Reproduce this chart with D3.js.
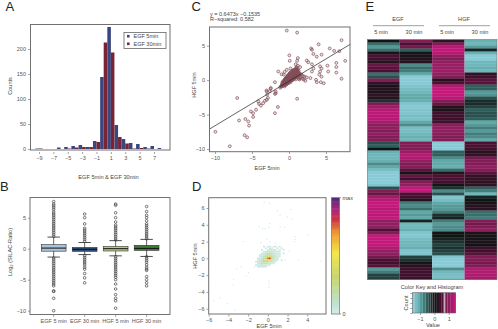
<!DOCTYPE html>
<html>
<head>
<meta charset="utf-8">
<script src="https://cdn.jsdelivr.net/npm/d3@7"></script>
<style>
  body { margin: 0; background: #fff; }
  text { font-family: "Liberation Sans", Arial, sans-serif; fill: #444; }
  .letter { font-size: 13px; fill: #222; }
  .ax text { font-size: 5.5px; fill: #555; }
  .ax line { stroke: #666; stroke-width: 0.6; }
  .ax path { display: none; }
  .lab { font-size: 5.6px; text-anchor: middle; dominant-baseline: central; }
</style>
</head>
<body>
<svg id="fig" width="498" height="329"></svg>
<script>
// A - histogram
const histBins = [-9,-8,-7,-6,-5,-4,-3,-2,-1,0,1,2,3,4,5,6,7,8];
const histEgf5 = [1,0,0,3,4,6,8,4,16,144,244,48,20,12,10,4,6,2];
const histEgf30 = [1,0,0,0,1,3,4,4,14,213,193,24,11,1,2,1,0,0];
const histTicks = [-9,-7,-5,-3,-1,1,3,5,7];

// B - boxplots
const boxNames = ["EGF 5 min","EGF 30 min","HGF 5 min","HGF 30 min"];
const boxQ1 = [-0.4,-0.43,-0.37,-0.27];
const boxMed = [0.1,-0.1,0,0.05];
const boxQ3 = [0.65,0.2,0.37,0.55];
const boxLow = [-1.35,-0.95,-1.15,-1.25];
const boxHigh = [1.87,1,1.3,1.5];
const boxColors = ["#a9c4d9","#2f4b78","#b5c98a","#3f7d36"];
const boxOut = [
  [2,2.3,2.6,2.9,3.2,3.5,3.8,4.1,4.4,4.7,5,5.3,5.6,5.9,6.3,6.6,6.9,7.2,7.6,-1.5,-1.8,-2.1,-2.4,-2.7,-3,-3.3,-3.6,-3.9,-4.2,-4.5,-4.8,-5.1,-5.4,-5.7,-6,-6.8,-6.9,-8,-10],
  [1.2,1.5,1.8,2.1,2.4,2.7,3,3.3,4,5,5.6,-1.1,-1.4,-1.7,-2,-2.3,-2.6,-3,-3.3,-4,-4.7,-5.5],
  [1.4,1.7,2,2.3,2.6,2.9,3.2,3.5,3.8,4.3,5,5.8,7,7.2,-1.3,-1.6,-1.9,-2.2,-2.5,-2.8,-3.1,-3.4,-3.7,-4,-4.3,-4.6,-5,-5.7,-6.5,-7.4,-8,-8.4,-9.6],
  [1.6,1.9,2.2,2.5,2.8,3.1,3.4,3.7,4,4.5,5,5.4,6,6.8,-1.3,-1.6,-1.9,-2.2,-2.6,-3,-3.3,-3.5,-4.5,-5,-5.5,-6]
];

// C - scatter, x and y
const scatterX = [-0.3,1.1,7.1,3,3.1,4,5.5,6.1,6.8,3.3,3.75,4.4,7.6,6.4,6.4,5.2,5.3,6.4,7.1,0.05,0.1,1.2,1.1,2.4,2.6,3.1,3.3,4.2,4.4,4.2,4.1,4.4,4.7,4.3,3.75,3.65,2.9,3.1,-1.45,-1.9,-1,-0.7,1.1,-1.5,-1.9,-2.45,-1.8,-1.9,-3,-2.6,-2.95,-3.25,-3.5,-3.8,-3,-7,-9.95,-8,-6.75,-5.9,-5.5,-5.4,-6,-5.65,-5.15,-4.85,-4.85,-4.45,-4.05,-4.15,-2.85,-3.04,-2.5,-1.8,
  -1.2,-1.1,-1,-0.95,-0.9,-0.85,-0.8,-0.7,-0.7,-0.6,-0.6,-0.5,-0.5,-0.45,-0.4,-0.4,-0.3,-0.3,-0.25,-0.2,-0.2,-0.15,-0.1,-0.1,-0.05,0,0,0.05,0.1,0.1,0.15,0.2,0.2,0.25,0.3,0.3,0.35,0.4,0.4,0.45,0.5,0.5,0.55,0.6,0.6,0.7,0.7,0.75,0.8,0.8,0.85,0.9,0.9,1,1,1,1.1,1.1,1.2,1.2,1.3,1.3,1.4,1.4,1.5,1.5,1.6,1.7,1.8,1.9,2,2.1,2.2,2.4,0.9,1.2,1.5,1,-0.6,-0.3,0.2,0.5];
const scatterY = [7.2,6.9,5.8,4.6,4.4,5.2,4.6,4.25,4.2,3.8,3.4,3.7,2.8,2.5,1.9,2.1,1.25,1.1,0.2,3.6,2.8,3.2,2.8,2.85,2.6,2.3,1.7,2,1.7,1.25,0.8,0.5,-0.45,-0.3,-0.3,0.05,0.3,1.25,1.25,-0.3,0.85,0.8,-2.7,-3.9,-4.8,-1.15,-1.65,-2,-1.65,-1.6,-2.1,-3,-3.35,-3.7,-2.85,-2.6,-7.5,-9.6,-5.85,-5.65,-6,-6.6,-8,-8.3,-4.55,-4.8,-5.35,-4.3,-3.45,-3.1,-2.6,-1.5,-1.25,-1.9,
  -1.1,-0.9,-0.95,-0.6,-0.8,-0.5,-0.7,-0.35,-0.75,-0.2,-0.55,-0.4,0.1,-0.6,-0.15,-0.4,0.2,-0.3,-0.5,0.4,-0.1,-0.35,0.6,0,-0.25,0.8,0.2,-0.1,0.4,1,0.1,-0.1,0.6,0.2,1.2,0.3,0.7,0,0.5,0.9,0.2,0.6,1,0.1,1.4,0.4,0.7,0.9,1.1,0.3,1.3,0.6,0.1,1.6,0.5,1.9,0.8,1.1,0.4,1.5,0.2,1,0.7,0.1,0.9,0.3,0.5,0.8,0.2,0.6,0.1,0.5,-0.1,0.4,2.3,2.1,1.9,1.8,1.2,1.5,1.7,1.4];
// the solid core of the cloud
const coreX = [-1,-0.9,-0.8,-0.8,-0.7,-0.6,-0.6,-0.5,-0.5,-0.4,-0.4,-0.3,-0.3,-0.3,-0.2,-0.2,-0.2,-0.1,-0.1,-0.1,0,0,0,0,0.1,0.1,0.1,0.1,0.2,0.2,0.2,0.2,0.3,0.3,0.3,0.3,0.4,0.4,0.4,0.5,0.5,0.5,0.6,0.6,0.6,0.7,0.7,0.7,0.8,0.8,0.9,0.9,1,1,1.1,1.1,1.2,1.3,-0.5,-0.2,0.1,0.4,0.7,1,
  -0.9,-0.7,-0.5,-0.3,-0.1,0.1,0.3,0.5,0.7,0.9,1.1,1.3,-0.6,-0.4,-0.2,0,0.2,0.4,0.6,0.8,1,1.2,1.4,-0.8,-0.6,-0.4];
const coreY = [-0.8,-0.65,-0.5,-0.8,-0.55,-0.3,-0.65,-0.25,-0.5,-0.05,-0.3,0.1,-0.15,-0.4,0.25,0,-0.25,0.3,0.05,-0.2,0.5,0.25,0,-0.15,0.65,0.35,0.1,-0.1,0.75,0.5,0.25,0,0.9,0.6,0.35,0.1,0.85,0.55,0.25,1,0.7,0.4,1.05,0.75,0.45,1.15,0.8,0.5,1.1,0.75,1.25,0.85,1.35,0.95,1.1,0.7,1.2,1.15,0.2,0.6,0.9,1.2,1.4,1.6,
  -0.3,-0.1,0.2,0.45,0.75,1,1.25,1.35,1.5,1.6,1.5,1.4,-0.9,-0.7,-0.5,-0.4,-0.3,-0.05,0.15,0.35,0.5,0.85,0.9,-0.2,0.05,0.35];

// D - single scattered cells
const densX = [-0.37,0.17,0.98,1.25,2.3,1.96,2.43,-0.91,-0.54,-0.27,0.17,1.25,1.69,0.07,-2.47,-0.7,-0.1,0.24,0.8,2.77,2.77,2.7,4.05,2.16,3.1,5.4,1.76,-2.7,-3.14,-1.96,-2.2,-1.35,-3.48,-3.5,0.14,0.14,-5.5,-4.83,-4.1,-3.3,0.1];
const densY = [6.68,6.56,5.65,5.18,5.8,4.94,4.66,3.75,3.56,3.52,4.15,3.75,3.68,3.68,2,1.86,2.3,2,1.8,2.57,2.25,2,2.77,0.87,-0.2,-0.36,-0.2,-1,-1.26,-1.7,-2.05,-1,-2.5,-3.16,-3,-3.44,-5.06,-4.7,-5.38,-6.17,-2.7];
// D - dense middle as a small grid
const gridXs = [-1.2,-1,-0.8,-0.6,-0.4,-0.2,0,0.2,0.4,0.6,0.8,1,1.2,1.4,1.6];
const gridYs = [1.4,1.2,1,0.8,0.6,0.4,0.2,0,-0.2,-0.4,-0.6,-0.8,-1];
const gridVals = [
  [0,0,0,0,.02,0,.02,.03,0,.02,.02,0,.02,0,0],
  [0,0,0,0,0,.02,0,.03,.03,0,0,.03,0,.02,0],
  [0,0,0,.02,0,0,.03,.04,.03,.05,.03,0,.02,0,.02],
  [0,0,0,0,.02,.04,.05,.06,.06,.05,.03,.03,.02,0,0],
  [0,0,0,.02,.03,.06,.1,.12,.1,.07,.04,.03,.02,0,.02],
  [0,0,.02,.03,.07,.12,.2,.24,.16,.08,.05,.03,.02,0,0],
  [0,0,.02,.05,.1,.24,.42,.46,.26,.1,.05,.03,.02,0,0],
  [0,.02,.03,.07,.18,.4,.74,.82,.36,.12,.05,.03,0,0,0],
  [0,.02,.04,.09,.24,.44,.56,.38,.16,.07,.04,.02,0,.02,0],
  [.02,.03,.06,.12,.22,.26,.22,.12,.07,.04,.02,0,0,0,0],
  [0,.03,.07,.1,.12,.1,.08,.05,.03,.02,0,0,0,0,0],
  [.02,.03,.05,.06,.05,.04,.03,.02,0,0,0,0,0,0,0],
  [0,.02,.02,.03,.02,.02,0,0,0,0,0,0,0,0,0]
];
const barStops = [0,0.1,0.32,0.52,0.69,0.81,0.9,1];
const barColors = ["#d3ece6","#bfe0cc","#c6d66c","#f3e64a","#ee9c30","#cc3344","#a8287c","#4b2a78"];

// E - heatmap, one value per row for each column
const heatHead = ["5 min","30 min","5 min","30 min"];
const heatEgf5 = [0,-.6,-.9,-.6,.1,.5,.4,.2,.7,.6,.5,-.6,-.4,.9,.3,.1,.2,.1,.3,.15,-.2,.9,1.1,1.4,1.45,1.4,1.4,
  1.2,.95,1,.9,1,.9,.9,-.4,-.5,0,-1.1,-1.2,-1.2,-1.1,-.8,-1,-1.3,-1.5,-1.5,-1.5,-1.5,-1.4,-.4,.9,.7,1.1,
  1.4,1.5,1.5,1.4,1.5,1.4,1.5,1,1,1,.5,.9,1.5,1.5,1.5,1.5,1.3,1,1,.8,.5,.4,.6,-.9,-.7,-.3,-.3];
const heatEgf30 = [.9,.5,.8,-.5,.05,.05,.15,.2,-.8,-.6,-.7,-1,-1.5,-1.5,-1.5,-1.4,-1.3,-1.2,-1.05,-1,-1.1,-1.4,-1.45,-1.4,-1.4,-1.3,-1.35,
  -1,-.8,-1.3,-1.3,-1.2,-1.1,-1.2,.9,.9,.9,1.1,1.4,1.3,1,.9,.9,.6,.05,.7,.4,.9,1,1.5,1.5,.5,.4,
  .2,-.7,-.8,-.6,-1,-.9,-1,-.1,-1.2,-1.2,-1.1,-1.4,-1.45,-1.3,-1.2,-1.2,-1.1,-1.4,-1.4,-.3,-.2,.1,.2,.4,.4,.4,.35];
const heatHgf5 = [.3,.9,1.4,1.5,1.4,1,.9,1,1.1,1.1,1.1,1,.9,.2,.5,1.3,1.5,1.5,1.5,1.4,.9,.7,.15,.1,.4,.4,.35,
  .4,.95,1,1,.95,.9,.9,-1.5,-1.5,-1.5,-.5,-.5,-.8,-1,-1,-1.1,-.6,.2,.5,.5,.4,.05,-.2,-.8,-.4,-1.4,
  -1.3,-1,-.9,-.9,-.7,-.2,-.1,-.7,-.9,-.8,-.8,0,0,-.1,-.2,-.3,-.2,-.3,-.4,-1.4,-1.5,-1.5,-1.5,-.8,-1.2,-1.3,-1.3];
const heatHgf30 = [-1.1,-1.2,-.9,-.1,-1.1,-1.5,-1.5,-1.2,-1.2,-1.1,-1.2,.3,.4,.6,.6,-.5,-.5,-.9,-.85,-.4,-.15,-.15,-.3,-.5,-.4,-.4,-.5,
  -1,-.9,-.7,-.9,-.7,-.8,-1,.5,.5,.4,.2,.3,.8,.9,.9,1,.9,.6,.3,.3,.25,.3,-.5,-.7,-1.2,-.1,
  0,.05,.2,.25,-.6,-.6,-.7,.9,.8,.9,1,.1,.05,.05,.1,0,.35,.4,.6,.9,.9,.8,.9,1.3,1.3,1.3,1.2];
const heatStops = [-1.5,-1,-0.5,0,0.5,1,1.5];
const heatColors = ["#88cbd6","#5fa9a8","#2f5f5c","#101414","#4c1032","#8f1f5f","#c4187a"];
const keyValues = [-1.5,-1.3,-1.1,-0.9,-0.7,-0.5,-0.35,-0.2,-0.05,0.1,0.25,0.4,0.55,0.7,0.85,1,1.2,1.4];

const svg = d3.select("#fig");

function frame(x0, y0, x1, y1) {
  svg.append("rect")
    .attr("x", x0).attr("y", y0)
    .attr("width", x1 - x0).attr("height", y1 - y0)
    .attr("fill", "none").attr("stroke", "#707070").attr("stroke-width", 1);
}
function axis(gen, tx, ty) {
  svg.append("g").attr("class", "ax")
    .attr("transform", `translate(${tx},${ty})`)
    .call(gen.tickSize(2).tickPadding(2));
}
function label(x, y, str, rotate) {
  const t = svg.append("text").attr("class", "lab")
    .attr("transform", `translate(${x},${y})` + (rotate ? " rotate(-90)" : ""))
    .text(str);
  return t;
}
[["A",5.5,11],["B",0,191],["C",191.5,11],["D",192,191],["E",365.5,11]].forEach(d => {
  svg.append("text").attr("class", "letter").attr("x", d[1]).attr("y", d[2]).text(d[0]);
});

// --- A
const xA = d3.scaleLinear().domain([-9, 7]).range([39, 154]);
const yA = d3.scaleLinear().domain([0, 250]).range([149, 24]);
const barW = 3.55;
svg.append("g").selectAll("rect").data(histBins).enter().append("rect")
  .attr("x", d => xA(d) - barW).attr("width", barW)
  .attr("y", (d, i) => yA(histEgf5[i]))
  .attr("height", (d, i) => yA(0) - yA(histEgf5[i]))
  .attr("fill", "#38477f");
svg.append("g").selectAll("rect").data(histBins).enter().append("rect")
  .attr("x", d => xA(d)).attr("width", barW)
  .attr("y", (d, i) => yA(histEgf30[i]))
  .attr("height", (d, i) => yA(0) - yA(histEgf30[i]))
  .attr("fill", "#7b2336");
frame(30.5, 24.5, 170, 150);
axis(d3.axisBottom(xA).tickValues(histTicks), 0, 152);
axis(d3.axisLeft(yA).tickValues([0,50,100,150,200]), 30, 0);
label(9.5, 86, "Counts", true);
label(108.5, 176.7, "EGF 5min & EGF 30min");
svg.append("rect").attr("x", 124).attr("y", 32.5).attr("width", 42).attr("height", 16)
  .attr("fill", "#fff").attr("stroke", "#666").attr("stroke-width", 0.8);
[["EGF 5min","#38477f",36.2],["EGF 30min","#7b2336",43.8]].forEach(d => {
  svg.append("rect").attr("x", 127).attr("y", d[2] - 1.3).attr("width", 2.6).attr("height", 2.6).attr("fill", d[1]);
  svg.append("text").attr("x", 133.5).attr("y", d[2]).attr("font-size", 5.5)
    .attr("dominant-baseline", "central").text(d[0]);
});

// --- B
const xB = d3.scaleBand().domain(boxNames).range([35.1, 165.2]).padding(0.2);
const yB = d3.scaleLinear().domain([-10, 5]).range([310.7, 217.7]);
const boxes = svg.append("g").selectAll("g").data(boxNames).enter().append("g");
boxes.append("line")
  .attr("x1", d => xB(d) + xB.bandwidth() / 2).attr("x2", d => xB(d) + xB.bandwidth() / 2)
  .attr("y1", (d, i) => yB(boxLow[i])).attr("y2", (d, i) => yB(boxHigh[i]))
  .attr("stroke", "#222").attr("stroke-width", 0.7);
[boxLow, boxHigh].forEach(arr => {
  boxes.append("line")
    .attr("x1", d => xB(d) + xB.bandwidth() * 0.25).attr("x2", d => xB(d) + xB.bandwidth() * 0.75)
    .attr("y1", (d, i) => yB(arr[i])).attr("y2", (d, i) => yB(arr[i]))
    .attr("stroke", "#222").attr("stroke-width", 0.8);
});
boxes.append("rect")
  .attr("x", d => xB(d)).attr("width", xB.bandwidth())
  .attr("y", (d, i) => yB(boxQ3[i]))
  .attr("height", (d, i) => yB(boxQ1[i]) - yB(boxQ3[i]))
  .attr("fill", (d, i) => boxColors[i]).attr("stroke", "#333").attr("stroke-width", 0.6);
boxes.append("line")
  .attr("x1", d => xB(d)).attr("x2", d => xB(d) + xB.bandwidth())
  .attr("y1", (d, i) => yB(boxMed[i])).attr("y2", (d, i) => yB(boxMed[i]))
  .attr("stroke", "#111").attr("stroke-width", 1);
boxes.each(function(d, i) {
  d3.select(this).selectAll("circle").data(boxOut[i]).enter().append("circle")
    .attr("cx", xB(d) + xB.bandwidth() / 2).attr("cy", v => yB(v)).attr("r", 1.3)
    .attr("fill", "none").attr("stroke", "#333").attr("stroke-width", 0.65);
});
frame(30, 197.5, 170, 314.5);
axis(d3.axisBottom(xB).tickSize(0), 0, 315);
axis(d3.axisLeft(yB).tickValues([-10,-5,0,5]), 30, 0);
const yLabB = label(9.5, 252, "Log");
yLabB.append("tspan").attr("font-size", 4.2).attr("dy", 1.5).text("2");
yLabB.append("tspan").attr("dy", -1.5).text(" (SILAC-Ratio)");
yLabB.attr("transform", "translate(9.5,252) rotate(-90)");

// --- C
const xC = d3.scaleLinear().domain([-10, 5]).range([215, 326]);
const yC = d3.scaleLinear().domain([-10, 5]).range([149, 45.7]);
const fitA = 0.6473, fitB = -0.1535;
const allX = scatterX.concat(coreX);
const allY = scatterY.concat(coreY);
svg.append("g").selectAll("circle").data(allX).enter().append("circle")
  .attr("cx", d => xC(d)).attr("cy", (d, i) => yC(allY[i])).attr("r", 1.45)
  .attr("fill", "#6b3038").attr("fill-opacity", 0.14)
  .attr("stroke", "#85525c").attr("stroke-width", 0.7);
svg.append("line")
  .attr("x1", xC(-10.8)).attr("y1", yC(fitA * -10.8 + fitB))
  .attr("x2", xC(8.3)).attr("y2", yC(fitA * 8.3 + fitB))
  .attr("stroke", "#222").attr("stroke-width", 0.7);
frame(209.5, 27, 350, 151.7);
axis(d3.axisBottom(xC).tickValues([-10,-5,0,5]), 0, 152);
axis(d3.axisLeft(yC).tickValues([-10,-5,0,5]), 209, 0);
label(194, 85, "HGF 5min", true);
label(267, 167.7, "EGF 5min");
svg.append("text").attr("x", 210).attr("y", 13.7).attr("font-size", 5.5)
  .attr("dominant-baseline", "central").text("y = 0.6473x \u22120.1535");
svg.append("text").attr("x", 210).attr("y", 19.4).attr("font-size", 5.5)
  .attr("dominant-baseline", "central").text("R\u2212squared: 0.582");

// --- D
const xD = d3.scaleLinear().domain([-6, 4]).range([208.7, 307.3]);
const yD = d3.scaleLinear().domain([-6, 6]).range([308.7, 208]);
const colD = d3.scaleLinear().domain(barStops).range(barColors);
svg.append("g").selectAll("rect").data(densX).enter().append("rect")
  .attr("x", d => xD(d) - 0.6).attr("y", (d, i) => yD(densY[i]) - 0.6)
  .attr("width", 1.2).attr("height", 1.2)
  .attr("fill", barColors[0]);
const gridCells = [];
gridVals.forEach((row, r) => row.forEach((v, c) => { if (v > 0) gridCells.push({ r, c, v }); }));
svg.append("g").selectAll("rect").data(gridCells).enter().append("rect")
  .attr("x", d => xD(gridXs[d.c]) - 1)
  .attr("y", d => yD(gridYs[d.r]) - 0.85)
  .attr("width", 2).attr("height", 1.7)
  .attr("fill", d => colD(d.v));
frame(208.7, 197.7, 326, 314);
axis(d3.axisBottom(xD).tickValues([-6,-4,-2,0,2,4]), 0, 314.5);
axis(d3.axisLeft(yD).tickValues([-6,-4,-2,0,2,4,6]), 208.5, 0);
label(195, 256, "HGF 5min", true);
label(269, 326, "EGF 5min");

// colour bar
const yBar = d3.scaleLinear().domain([0, 1]).range([314, 197.7]);
svg.append("g").selectAll("rect").data(d3.range(0, 1, 0.01)).enter().append("rect")
  .attr("x", 331.5).attr("width", 8)
  .attr("y", d => yBar(d + 0.01)).attr("height", yBar(0) - yBar(0.01) + 0.5)
  .attr("fill", d => colD(d));
svg.append("rect").attr("x", 331.5).attr("y", 197.7).attr("width", 8).attr("height", 116.3)
  .attr("fill", "none").attr("stroke", "#666").attr("stroke-width", 0.6);
[[0,"0"],[1,"max"]].forEach(d => {
  svg.append("line").attr("x1", 339.5).attr("x2", 341).attr("y1", yBar(d[0])).attr("y2", yBar(d[0]))
    .attr("stroke", "#555").attr("stroke-width", 0.6);
  svg.append("text").attr("x", 342.5).attr("y", yBar(d[0])).attr("font-size", 5.5)
    .attr("dominant-baseline", "central").text(d[1]);
});

// --- E
const heatCols = [heatEgf5, heatEgf30, heatHgf5, heatHgf30];
const xE = d3.scaleBand().domain(d3.range(4)).range([367.3, 497]);
const yE = d3.scaleBand().domain(d3.range(80)).range([39.5, 279.5]);
const colE = d3.scaleLinear().domain(heatStops).range(heatColors).clamp(true);
heatCols.forEach((col, c) => {
  svg.append("g").selectAll("rect").data(col).enter().append("rect")
    .attr("x", xE(c)).attr("width", xE.bandwidth())
    .attr("y", (d, i) => yE(i)).attr("height", yE.bandwidth() + 0.3)
    .attr("fill", d => colE(d));
});
svg.append("rect").attr("x", 367.3).attr("y", 39.5).attr("width", 129.7).attr("height", 240)
  .attr("fill", "none").attr("stroke", "#777").attr("stroke-width", 0.6);
[["EGF",398,373,424],["HGF",464,439,490]].forEach(d => {
  label(d[1], 19.3, d[0]);
  svg.append("line").attr("x1", d[2]).attr("x2", d[3]).attr("y1", 25.7).attr("y2", 25.7)
    .attr("stroke", "#888").attr("stroke-width", 0.8);
});
[381,414,447,480].forEach((x, i) => label(x, 32, heatHead[i]));

// colour key
const xKey = d3.scaleLinear().domain([-1, 1]).range([420, 448.7]);
label(432, 287, "Color Key and Histogram");
svg.append("g").selectAll("rect").data(keyValues).enter().append("rect")
  .attr("x", (d, i) => xKey(i ? (keyValues[i - 1] + d) / 2 : -1.53))
  .attr("width", (d, i) => xKey(i < keyValues.length - 1 ? (keyValues[i + 1] + d) / 2 : 1.5)
    - xKey(i ? (keyValues[i - 1] + d) / 2 : -1.53))
  .attr("y", 292.7).attr("height", 20.3)
  .attr("fill", d => colE(d));
svg.append("line").attr("x1", xKey(0.7)).attr("x2", xKey(0.7)).attr("y1", 293).attr("y2", 313)
  .attr("stroke", "#eee").attr("stroke-width", 0.8);
svg.append("rect").attr("x", 412.3).attr("y", 292.7).attr("width", 43.4).attr("height", 20.3)
  .attr("fill", "none").attr("stroke", "#666").attr("stroke-width", 0.6);
const yKey = d3.scaleLinear().domain([0, 4]).range([313, 293]);
svg.append("g").attr("class", "ax").attr("transform", "translate(412.3,0)")
  .call(d3.axisLeft(yKey).ticks(4).tickSize(2).tickFormat(""));
axis(d3.axisBottom(xKey).tickValues([-1,0,1]).tickFormat(d3.format("d")), 0, 313);
label(405.7, 303, "Count", true);
label(433, 324.7, "Value");
</script>
</body>
</html>
